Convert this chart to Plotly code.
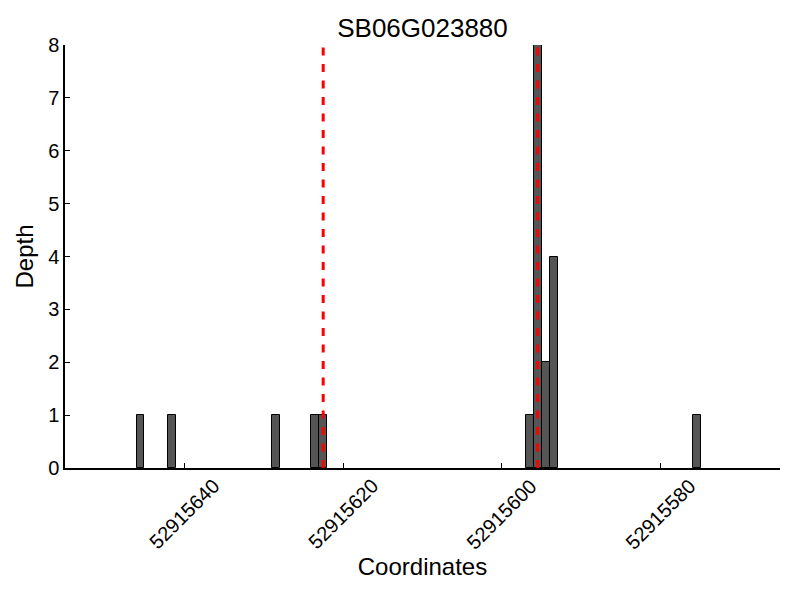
import plotly.graph_objects as go

title = "SB06G023880"
positions = [52915645, 52915641, 52915628, 52915623, 52915622,
             52915596, 52915595, 52915594, 52915593, 52915575]
depths = [1, 1, 1, 1, 1, 1, 8, 2, 4, 1]
marker_lines = [52915622.5, 52915595.5]
x_ticks = [52915640, 52915620, 52915600, 52915580]
x_range = [52915655, 52915565]
y_range = [0, 8]

font = "Liberation Sans, Arial, sans-serif"

fig = go.Figure()
fig.add_trace(go.Bar(
    x=positions, y=depths, offset=0, width=1,
    marker=dict(color="#555555", line=dict(color="black", width=1)),
    showlegend=False,
))
for xv in marker_lines:
    fig.add_shape(type="line", xref="x", yref="y", x0=xv, x1=xv,
                  y0=y_range[0], y1=y_range[1],
                  line=dict(color="red", width=3, dash="8px,8.5px"))

# rotated tick labels centred on their ticks
for t in x_ticks:
    fig.add_annotation(x=t, y=0, xref="x", yref="paper", text=str(t),
                       textangle=-45, showarrow=False, xanchor="center",
                       yanchor="top", yshift=-4,
                       font=dict(size=20, family=font, color="black"))

fig.update_layout(
    width=792, height=592,
    margin=dict(l=57, r=20, t=37, b=132),
    plot_bgcolor="white", paper_bgcolor="white",
    font=dict(family=font, color="black", size=20),
    title=dict(text=title, xref="paper", x=0.5, xanchor="center",
               yref="container", y=1 - 20 / 592, yanchor="middle",
               font=dict(size=26, family=font, color="black")),
    bargap=0,
)
fig.update_xaxes(
    range=x_range, tickvals=x_ticks, showticklabels=False,
    ticks="inside", ticklen=5, tickcolor="black", tickwidth=1,
    showline=True, linecolor="black", linewidth=1.5, showgrid=False, zeroline=False,
    title=dict(text="Coordinates", font=dict(size=24), standoff=89),
)
fig.update_yaxes(
    range=y_range, dtick=1, ticks="inside", ticklen=5, tickcolor="black", tickwidth=1,
    showline=True, linecolor="black", linewidth=1.5, showgrid=False, zeroline=False,
    title=dict(text="Depth", font=dict(size=24), standoff=8),
    tickfont=dict(size=20),
)
fig.write_html("out.html")
